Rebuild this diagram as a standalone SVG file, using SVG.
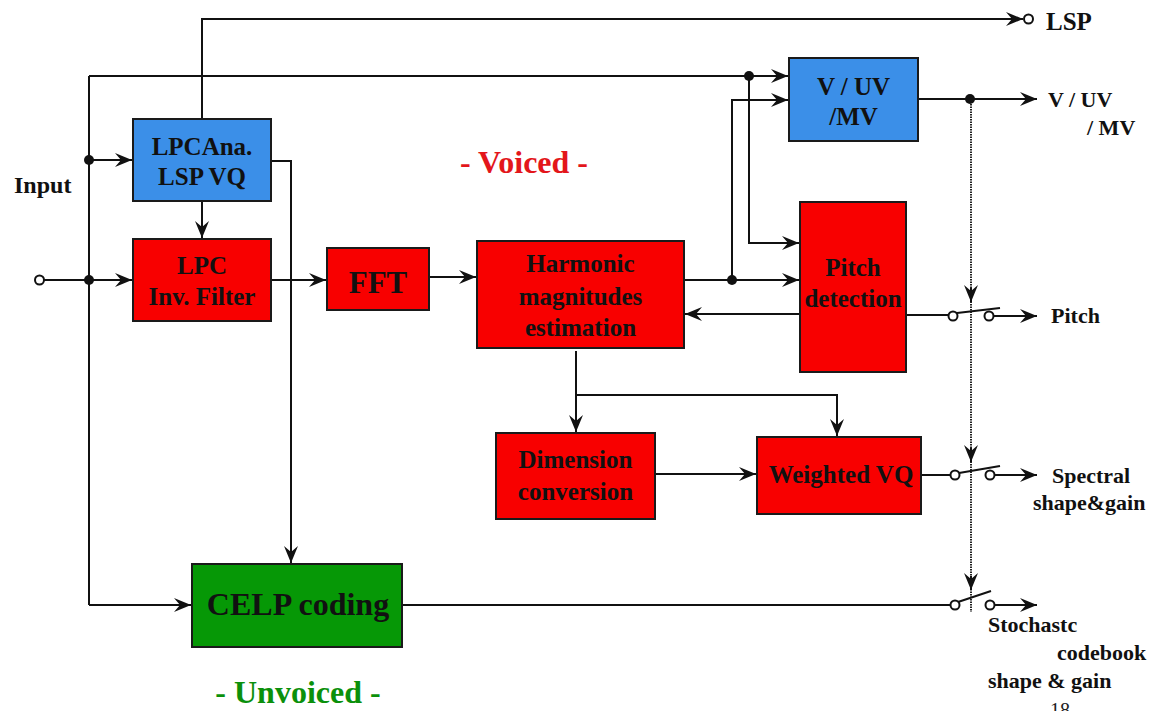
<svg xmlns="http://www.w3.org/2000/svg" width="1156" height="711" viewBox="0 0 1156 711">
  <style>
    .box { stroke: #1a1a1a; stroke-width: 2; }
    .red { fill: #f80000; }
    .blue { fill: #3b8fe8; }
    .green { fill: #069806; }
    .t { font-family: "Liberation Serif", "Times New Roman", serif; font-weight: bold; fill: #111; }
    .bt { font-size: 25px; text-anchor: middle; }
    .lbl { font-size: 22px; }
    .wire { fill: none; stroke: #111; stroke-width: 2; }
    .arr { marker-end: url(#ah); }
    .dots { fill: none; stroke: #222; stroke-width: 2; stroke-dasharray: 1.5 1; }
    .node { fill: #111; }
    .term { fill: #fff; stroke: #111; stroke-width: 2; }
  </style>
  <defs>
    <marker id="ah" markerUnits="userSpaceOnUse" markerWidth="20" markerHeight="18" viewBox="-19 -9 20 18" refX="0" refY="0" orient="auto">
      <path d="M0,0 L-17,-7 L-11,0 L-17,7 Z" fill="#111"/>
    </marker>
  </defs>

  <rect width="1156" height="711" fill="#fff"/>

  <!-- connectors -->
  <g id="connectors">
    <!-- LSP output -->
    <path class="wire arr" d="M202,119 V19 H1023"/>
    <!-- input bus -->
    <path class="wire" d="M44,280 H89"/>
    <path class="wire" d="M89,76 V605"/>
    <path class="wire arr" d="M89,76 H788"/>
    <path class="wire arr" d="M89,160 H132"/>
    <path class="wire arr" d="M89,280 H132"/>
    <path class="wire arr" d="M89,605 H191"/>
    <!-- LPC analysis to inverse filter and CELP -->
    <path class="wire arr" d="M202,201 V238"/>
    <path class="wire arr" d="M271,161 H291 V563"/>
    <!-- voiced chain -->
    <path class="wire arr" d="M271,280 H326"/>
    <path class="wire arr" d="M429,277 H476"/>
    <path class="wire arr" d="M684,280 H799"/>
    <path class="wire arr" d="M732,280 V100 H788"/>
    <path class="wire arr" d="M749,76 V243 H799"/>
    <path class="wire arr" d="M800,314 H685"/>
    <path class="wire arr" d="M576,351 V432"/>
    <path class="wire arr" d="M576,395 H837 V436"/>
    <path class="wire arr" d="M655,474 H756"/>
    <!-- V/UV/MV output -->
    <path class="wire arr" d="M918,99 H1037"/>
    <!-- switch control line -->
    <path class="dots" d="M971,99 V612"/>
    <path class="wire arr" d="M971,288 V302"/>
    <path class="wire arr" d="M971,448 V462"/>
    <path class="wire arr" d="M971,576 V590"/>
    <!-- pitch switch -->
    <path class="wire" d="M905,315 H948.5"/>
    <path class="wire" d="M957,313 L1000,308"/>
    <path class="wire arr" d="M993.5,316 H1037"/>
    <!-- spectral switch -->
    <path class="wire" d="M921,475 H950.5"/>
    <path class="wire" d="M959,473 L1000,466"/>
    <path class="wire arr" d="M994.5,475 H1037"/>
    <!-- stochastic switch -->
    <path class="wire" d="M402,605 H950.5"/>
    <path class="wire" d="M958,602 L991,591"/>
    <path class="wire arr" d="M994.5,605 H1037"/>
    <!-- junctions and terminals -->
    <circle class="node" cx="89" cy="160" r="5"/>
    <circle class="node" cx="89" cy="280" r="5"/>
    <circle class="node" cx="749" cy="76" r="5"/>
    <circle class="node" cx="732" cy="280" r="5"/>
    <circle class="node" cx="970" cy="99" r="5"/>
    <circle class="term" cx="39.5" cy="280" r="4.5"/>
    <circle class="term" cx="1028.5" cy="19" r="4.5"/>
    <circle class="term" cx="953" cy="316" r="4.5"/>
    <circle class="term" cx="989" cy="316" r="4.5"/>
    <circle class="term" cx="955" cy="475" r="4.5"/>
    <circle class="term" cx="990" cy="475" r="4.5"/>
    <circle class="term" cx="955" cy="605" r="4.5"/>
    <circle class="term" cx="990" cy="605" r="4.5"/>
  </g>

  <!-- blocks -->
  <g id="lpc-analysis">
    <rect class="box blue" x="133" y="119" width="138" height="82"/>
    <text class="t bt" x="202" y="155">LPCAna.</text>
    <text class="t bt" x="202" y="185">LSP VQ</text>
  </g>
  <g id="lpc-inverse-filter">
    <rect class="box red" x="133" y="239" width="138" height="82"/>
    <text class="t bt" x="202" y="274">LPC</text>
    <text class="t bt" x="202" y="305">Inv. Filter</text>
  </g>
  <g id="fft">
    <rect class="box red" x="327" y="248" width="102" height="62"/>
    <text class="t bt" x="378" y="293" style="font-size:31px">FFT</text>
  </g>
  <g id="harmonic-estimation">
    <rect class="box red" x="477" y="241" width="207" height="107"/>
    <text class="t bt" x="580.5" y="272">Harmonic</text>
    <text class="t bt" x="580.5" y="305">magnitudes</text>
    <text class="t bt" x="580.5" y="336">estimation</text>
  </g>
  <g id="vuv-decision">
    <rect class="box blue" x="789" y="58" width="129" height="83"/>
    <text class="t bt" x="853.5" y="95">V / UV</text>
    <text class="t bt" x="853.5" y="125">/MV</text>
  </g>
  <g id="pitch-detection">
    <rect class="box red" x="800" y="202" width="106" height="170"/>
    <text class="t bt" x="853" y="276">Pitch</text>
    <text class="t bt" x="853" y="307">detection</text>
  </g>
  <g id="dimension-conversion">
    <rect class="box red" x="496" y="433" width="159" height="86"/>
    <text class="t bt" x="575.5" y="468">Dimension</text>
    <text class="t bt" x="575.5" y="500">conversion</text>
  </g>
  <g id="weighted-vq">
    <rect class="box red" x="757" y="437" width="164" height="77"/>
    <text class="t bt" x="841" y="483">Weighted VQ</text>
  </g>
  <g id="celp-coding">
    <rect class="box green" x="192" y="564" width="210" height="83"/>
    <text class="t bt" x="298" y="615" style="font-size:32px">CELP coding</text>
  </g>

  <!-- labels -->
  <g id="labels">
    <text class="t" x="14" y="193" style="font-size:24px">Input</text>
    <text class="t" x="1046" y="30" style="font-size:25px">LSP</text>
    <text class="t lbl" x="1048" y="107">V / UV</text>
    <text class="t lbl" x="1087" y="135">/ MV</text>
    <text class="t lbl" x="1051" y="323">Pitch</text>
    <text class="t lbl" x="1052" y="483">Spectral</text>
    <text class="t lbl" x="1033" y="510">shape&amp;gain</text>
    <text class="t lbl" x="988" y="632">Stochastc</text>
    <text class="t lbl" x="1057" y="660">codebook</text>
    <text class="t lbl" x="988" y="688">shape &amp; gain</text>
    <text x="1050" y="717" style="font-family:'Liberation Serif',serif;font-size:20px;fill:#222">18</text>
    <text class="t" x="524" y="173" text-anchor="middle" style="font-size:32px;fill:#e3161b">- Voiced -</text>
    <text class="t" x="298" y="703" text-anchor="middle" style="font-size:32px;fill:#0b900b">- Unvoiced -</text>
  </g>
</svg>
